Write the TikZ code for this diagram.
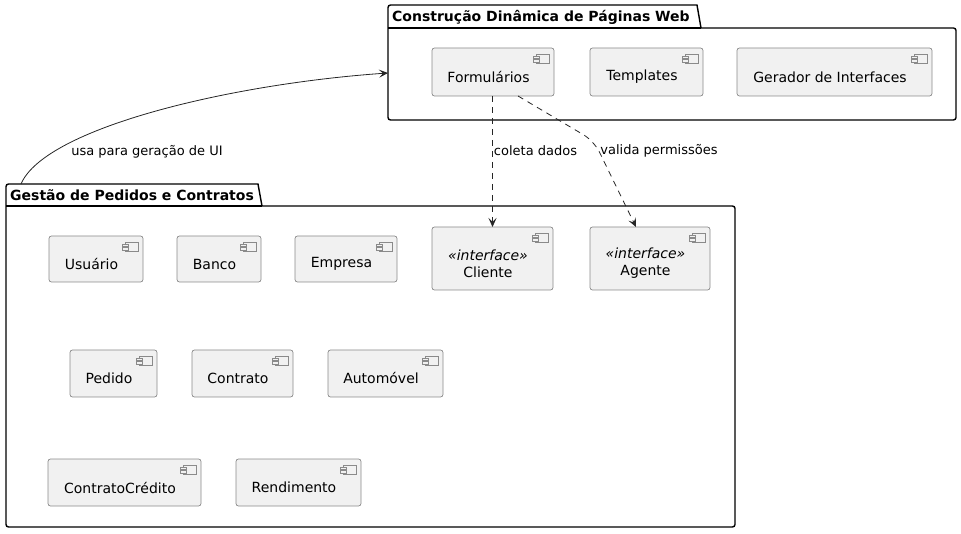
\documentclass[tikz,border=0pt]{standalone}
\usepackage{fontspec}
\setmainfont{DejaVu Sans}
\usetikzlibrary{arrows.meta}
\definecolor{compfill}{HTML}{F1F1F1}
\definecolor{compline}{HTML}{8A8A8A}
\tikzset{
  compbox/.style={draw=compline, fill=compfill, line width=0.7pt, rounded corners=2.5pt,
    anchor=north west, inner sep=0pt, outer sep=0pt},
  comptext/.style={font=\fontsize{14}{17}\selectfont, align=center, inner sep=0pt},
  compicon/.style={draw=compline, line width=0.6pt, fill=compfill},
  pkgline/.style={draw=black, line width=1.4pt},
  pkgtitle/.style={font=\fontsize{14}{16}\selectfont\bfseries, anchor=base west, inner sep=0pt},
  conn/.style={draw=black!85, line width=0.8pt},
  tip/.style={-{Stealth[length=9pt,width=8pt,inset=4pt]}},
  dashline/.style={dash pattern=on 6pt off 5pt},
  lbl/.style={font=\fontsize{13}{15}\selectfont, inner sep=0pt}
}
\newcommand\umlcomp[6]{%
  \node[compbox, minimum width=#4pt, minimum height=#5pt] (#1) at (#2,#3) {};
  \node[comptext] (#1-t) at ([xshift=-4.5pt,yshift=-5pt]#1.center) {#6};
  \begin{scope}[shift={(#1.north east)}]
    \draw[compicon] (-18,6) rectangle (-5,15);
    \draw[compicon] (-21,8) rectangle (-15,10.5);
    \draw[compicon] (-21,11.5) rectangle (-15,14);
  \end{scope}
}
\begin{document}
\begin{tikzpicture}[x=1pt,y=-1pt]
\useasboundingbox (0,0) rectangle (961,534);

% Package 1
\draw[pkgline, rounded corners=2.5pt] (388,28) -- (388,5) [sharp corners] -- (697,5) -- (701,28) [rounded corners=2.5pt] -- (956,28) -- (956,120) -- (388,120) -- (388,28);
\draw[pkgline] (388,28) -- (701,28);
\node[pkgtitle] (p1title) at (392,22) {Construção Dinâmica de Páginas Web};
\coordinate (p1w) at (388,73);

% Package 2
\draw[pkgline, rounded corners=2.5pt] (6,206) -- (6,184) [sharp corners] -- (258,184) -- (262,206) [rounded corners=2.5pt] -- (735,206) -- (735,527) -- (6,527) -- (6,206);
\draw[pkgline] (6,206) -- (262,206);
\node[pkgtitle] (p2title) at (10,201) {Gestão de Pedidos e Contratos};
\coordinate (p2top) at (21,184);

% Components package 1
\umlcomp{form}{432}{48}{122}{48}{Formulários}
\umlcomp{templ}{590}{48}{113}{48}{Templates}
\umlcomp{gerador}{737}{48}{195}{48}{Gerador de Interfaces}

% Components package 2
\umlcomp{usuario}{49}{236}{94}{46}{Usuário}
\umlcomp{banco}{177}{236}{84}{46}{Banco}
\umlcomp{empresa}{295}{236}{102}{46}{Empresa}
\umlcomp{cliente}{432}{227}{121}{63}{{\itshape «interface»}\\Cliente}
\umlcomp{agente}{590}{227}{120}{63}{{\itshape «interface»}\\Agente}
\umlcomp{pedido}{70}{350}{87}{47}{Pedido}
\umlcomp{contrato}{192}{350}{101}{47}{Contrato}
\umlcomp{auto}{328}{350}{115}{47}{Automóvel}
\umlcomp{ccredito}{48}{459}{153}{47}{ContratoCrédito}
\umlcomp{rend}{236}{459}{125}{47}{Rendimento}

% Connectors
\draw[conn, tip] (p2top) .. controls (45,128) and (230,84) .. (p1w);
\node[lbl] (l1) at (147,152) {usa para geração de UI};

\draw[conn, dashline, tip] (cliente.north |- form.south) -- (cliente.north);
\node[lbl] (l2) at (535.5,151) {coleta dados};

\draw[conn, dashline, tip, rounded corners=12pt] ([xshift=25pt]form.south) -- (594,141) -- ([xshift=-14pt]agente.north);
\node[lbl] (l3) at (659,151) {valida permissões};
\end{tikzpicture}
\end{document}
